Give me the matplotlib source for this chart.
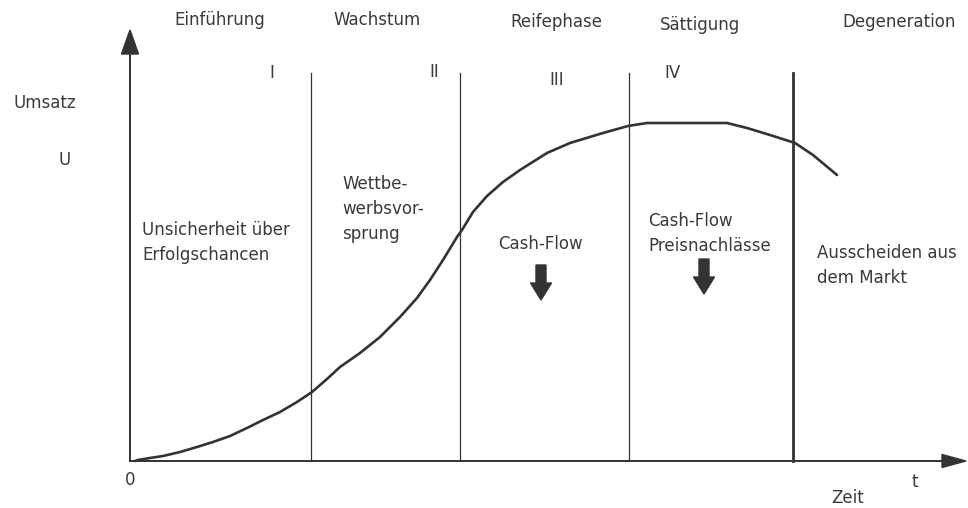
import matplotlib
matplotlib.use("Agg")
import matplotlib.pyplot as plt

# data units: t (time) and U (Umsatz), origin at the axis crossing
curve_t = [5, 8, 20, 33, 50, 67, 83, 100, 117, 133, 150, 167, 182, 197, 210, 230, 250,
           270, 287, 300, 313, 327, 332, 343, 357, 373, 390, 417, 440, 473, 498, 517,
           597, 617, 640, 665, 683, 707]
curve_u = [0, 1, 3, 5, 9, 14, 19, 25, 33, 41, 49, 59, 69, 82, 94, 108, 124,
           144, 163, 181, 201, 224, 231, 249, 265, 279, 291, 308, 318, 328, 335, 338,
           338, 333, 326, 318, 306, 286]

phase_bounds = [181, 330, 499, 663]
phase_widths = [0.9, 0.9, 0.9, 2.0]
bound_top = 388

phase_names = ["Einführung", "Wachstum", "Reifephase", "Sättigung", "Degeneration"]
phase_name_x = [90, 247, 426, 570, 769]
phase_name_y = [441, 441, 439, 436, 439]

roman = ["I", "II", "III", "IV"]
roman_x = [142, 304, 427, 542]
roman_y = [388, 389, 381, 388]

notes = ["Unsicherheit über\nErfolgschancen", "Wettbe-\nwerbsvor-\nsprung",
         "Cash-Flow", "Cash-Flow\nPreisnachlässe", "Ausscheiden aus\ndem Markt"]
note_x = [12, 212, 368, 518, 687]
note_y = [240, 286, 226, 249, 217]

cash_arrow_x = [411, 574]
cash_arrow_top = [196, 202]

line_col = "#333333"
text_col = "#3a3a3a"
fs = 12

fig = plt.figure(figsize=(9.68, 5.08), dpi=100)
ax = fig.add_axes([0, 0, 1, 1])
ax.set_xlim(-130, 838)
ax.set_ylim(-47, 461)
ax.axis("off")

# axes with arrow heads
ax.plot([0, 0], [0, 412], color=line_col, lw=1.4)
ax.arrow(0, 405, 0, 26, width=0.1, head_width=17, head_length=24,
         length_includes_head=True, color=line_col)
ax.plot([0, 812], [0, 0], color=line_col, lw=1.4)
ax.arrow(805, 0, 31, 0, width=0.1, head_width=13, head_length=24,
         length_includes_head=True, color=line_col)

# phase boundaries
for x, w in zip(phase_bounds, phase_widths):
    ax.plot([x, x], [0, bound_top], color=line_col, lw=w)

# life cycle curve
ax.plot(curve_t, curve_u, color=line_col, lw=1.9, solid_capstyle="round",
        solid_joinstyle="round")

for name, x, y in zip(phase_names, phase_name_x, phase_name_y):
    ax.text(x, y, name, ha="center", va="center", fontsize=fs, color=text_col)
for r, x, y in zip(roman, roman_x, roman_y):
    ax.text(x, y, r, ha="center", va="center", fontsize=fs, color=text_col)
for s, x, y in zip(notes, note_x, note_y):
    ax.text(x, y, s, ha="left", va="top", fontsize=fs, color=text_col,
            linespacing=1.5)

for x, top in zip(cash_arrow_x, cash_arrow_top):
    ax.arrow(x, top, 0, -35, width=10, head_width=21, head_length=17,
             length_includes_head=True, color=line_col)

ax.text(-85, 358, "Umsatz", ha="center", va="center", fontsize=fs, color=text_col)
ax.text(-65, 301, "U", ha="center", va="center", fontsize=fs, color=text_col)
ax.text(0, -19, "0", ha="center", va="center", fontsize=fs, color=text_col)
ax.text(785, -21, "t", ha="center", va="center", fontsize=fs, color=text_col)
ax.text(718, -37, "Zeit", ha="center", va="center", fontsize=fs, color=text_col)

fig.savefig("out.png", dpi=100)
